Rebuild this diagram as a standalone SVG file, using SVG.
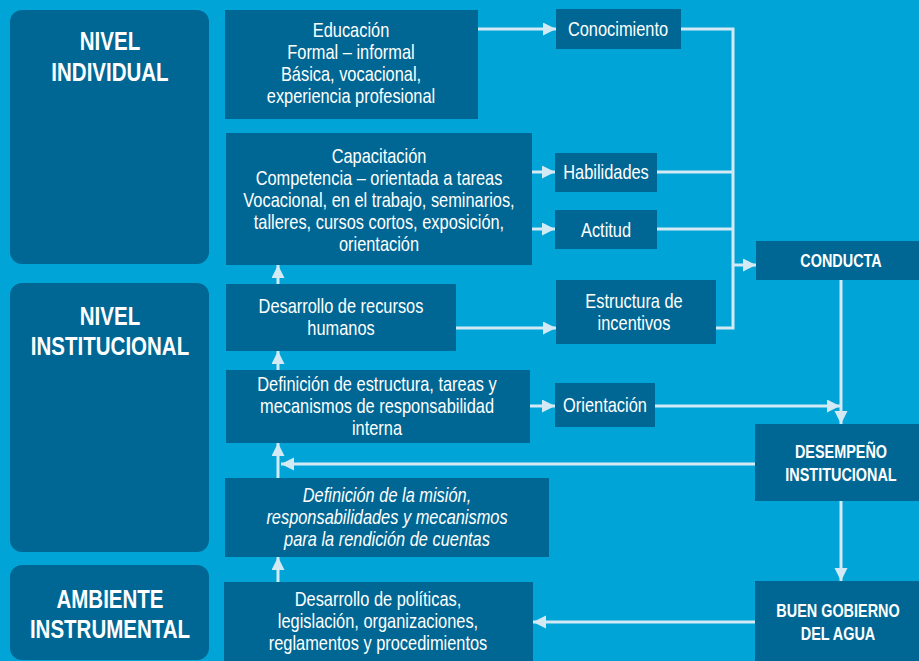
<svg xmlns="http://www.w3.org/2000/svg" width="919" height="661" viewBox="0 0 919 661">
<style>
.bg{fill:#00a4d6}
.panel{fill:#006794}
.box{fill:#006794}
.t{font-family:"Liberation Sans",Arial,sans-serif;fill:#fff;text-anchor:middle;font-size:20px}
.it{font-style:italic}
.h{font-weight:bold;font-size:25px}
.c{font-weight:bold;font-size:17.6px}
.ln{fill:none;stroke:#d3e9f4;stroke-width:3}
.ar{marker-end:url(#ah)}
</style>
<defs>
<marker id="ah" markerUnits="userSpaceOnUse" markerWidth="14" markerHeight="14" refX="13" refY="6.5" orient="auto">
<path d="M0,0 L13,6.5 L0,13 z" fill="#d3e9f4"/>
</marker>
</defs>
<rect class="bg" x="0" y="0" width="919" height="661"/>

<g id="panel-individual">
<rect class="panel" x="10" y="10" width="199" height="254" rx="12"/>
<g transform="translate(110 0) scale(0.82 1)">
<text class="t h" x="0" y="50">NIVEL</text>
<text class="t h" x="0" y="81">INDIVIDUAL</text>
</g>
</g>
<g id="panel-institucional">
<rect class="panel" x="10" y="283" width="199" height="269" rx="12"/>
<g transform="translate(110 0) scale(0.82 1)">
<text class="t h" x="0" y="325">NIVEL</text>
<text class="t h" x="0" y="355">INSTITUCIONAL</text>
</g>
</g>
<g id="panel-ambiente">
<rect class="panel" x="10" y="565" width="199" height="95" rx="12"/>
<g transform="translate(110 0) scale(0.82 1)">
<text class="t h" x="0" y="608">AMBIENTE</text>
<text class="t h" x="0" y="638">INSTRUMENTAL</text>
</g>
</g>

<g id="connectors">
<line class="ln ar" x1="478" y1="29" x2="556" y2="29"/>
<polyline class="ln" points="681,29 733,29 733,328 716,328"/>
<line class="ln" x1="657" y1="172" x2="733" y2="172"/>
<line class="ln" x1="657" y1="229" x2="733" y2="229"/>
<line class="ln ar" x1="733" y1="265" x2="756" y2="265"/>
<line class="ln ar" x1="532" y1="172" x2="555" y2="172"/>
<line class="ln ar" x1="532" y1="229" x2="555" y2="229"/>
<line class="ln ar" x1="456" y1="328" x2="556" y2="328"/>
<line class="ln ar" x1="530" y1="406" x2="555" y2="406"/>
<line class="ln ar" x1="655" y1="406" x2="840" y2="406"/>
<line class="ln ar" x1="841" y1="280" x2="841" y2="424"/>
<line class="ln ar" x1="755" y1="464" x2="281" y2="464"/>
<line class="ln ar" x1="841" y1="501" x2="841" y2="581"/>
<line class="ln ar" x1="755" y1="622" x2="533" y2="622"/>
<line class="ln ar" x1="278" y1="582" x2="278" y2="557"/>
<line class="ln ar" x1="278" y1="478" x2="278" y2="443"/>
<line class="ln ar" x1="278" y1="370" x2="278" y2="351"/>
<line class="ln ar" x1="278" y1="284" x2="278" y2="265"/>
</g>

<g id="educacion">
<rect class="box" x="225" y="10" width="253" height="109"/>
<g transform="translate(351 0) scale(0.82 1)">
<text class="t" x="0" y="37">Educación</text>
<text class="t" x="0" y="59">Formal – informal</text>
<text class="t" x="0" y="81">Básica, vocacional,</text>
<text class="t" x="0" y="103">experiencia profesional</text>
</g>
</g>
<g id="conocimiento">
<rect class="box" x="556" y="9" width="125" height="40"/>
<g transform="translate(618 0) scale(0.82 1)">
<text class="t" x="0" y="36">Conocimiento</text>
</g>
</g>
<g id="capacitacion">
<rect class="box" x="226" y="133" width="306" height="132"/>
<g transform="translate(379 0) scale(0.82 1)">
<text class="t" x="0" y="163">Capacitación</text>
<text class="t" x="0" y="185">Competencia – orientada a tareas</text>
<text class="t" x="0" y="207">Vocacional, en el trabajo, seminarios,</text>
<text class="t" x="0" y="229">talleres, cursos cortos, exposición,</text>
<text class="t" x="0" y="251">orientación</text>
</g>
</g>
<g id="habilidades">
<rect class="box" x="555" y="153" width="102" height="39"/>
<g transform="translate(606 0) scale(0.82 1)">
<text class="t" x="0" y="179">Habilidades</text>
</g>
</g>
<g id="actitud">
<rect class="box" x="555" y="210" width="102" height="39"/>
<g transform="translate(606 0) scale(0.82 1)">
<text class="t" x="0" y="237">Actitud</text>
</g>
</g>
<g id="conducta">
<rect class="box" x="756" y="241" width="170" height="39"/>
<g transform="translate(841 0) scale(0.82 1)">
<text class="t c" x="0" y="267">CONDUCTA</text>
</g>
</g>
<g id="desarrollo-rh">
<rect class="box" x="226" y="284" width="230" height="67"/>
<g transform="translate(341 0) scale(0.82 1)">
<text class="t" x="0" y="313">Desarrollo de recursos</text>
<text class="t" x="0" y="335">humanos</text>
</g>
</g>
<g id="incentivos">
<rect class="box" x="556" y="280" width="160" height="64"/>
<g transform="translate(634 0) scale(0.82 1)">
<text class="t" x="0" y="308">Estructura de</text>
<text class="t" x="0" y="330">incentivos</text>
</g>
</g>
<g id="definicion-estructura">
<rect class="box" x="226" y="370" width="304" height="73"/>
<g transform="translate(377 0) scale(0.82 1)">
<text class="t" x="0" y="391">Definición de estructura, tareas y</text>
<text class="t" x="0" y="413">mecanismos de responsabilidad</text>
<text class="t" x="0" y="435">interna</text>
</g>
</g>
<g id="orientacion">
<rect class="box" x="555" y="383" width="100" height="44"/>
<g transform="translate(605 0) scale(0.82 1)">
<text class="t" x="0" y="412">Orientación</text>
</g>
</g>
<g id="desempeno">
<rect class="box" x="755" y="424" width="170" height="77"/>
<g transform="translate(841 0) scale(0.82 1)">
<text class="t c" x="0" y="458">DESEMPEÑO</text>
<text class="t c" x="0" y="481">INSTITUCIONAL</text>
</g>
</g>
<g id="definicion-mision">
<rect class="box" x="225" y="478" width="324" height="79"/>
<g transform="translate(387 0) scale(0.82 1)">
<text class="t it" x="0" y="502">Definición de la misión,</text>
<text class="t it" x="0" y="524">responsabilidades y mecanismos</text>
<text class="t it" x="0" y="546">para la rendición de cuentas</text>
</g>
</g>
<g id="desarrollo-politicas">
<rect class="box" x="224" y="582" width="309" height="85"/>
<g transform="translate(378 0) scale(0.82 1)">
<text class="t" x="0" y="606">Desarrollo de políticas,</text>
<text class="t" x="0" y="628">legislación, organizaciones,</text>
<text class="t" x="0" y="650">reglamentos y procedimientos</text>
</g>
</g>
<g id="buen-gobierno">
<rect class="box" x="755" y="581" width="170" height="86"/>
<g transform="translate(838 0) scale(0.82 1)">
<text class="t c" x="0" y="617">BUEN GOBIERNO</text>
<text class="t c" x="0" y="640">DEL AGUA</text>
</g>
</g>
</svg>
